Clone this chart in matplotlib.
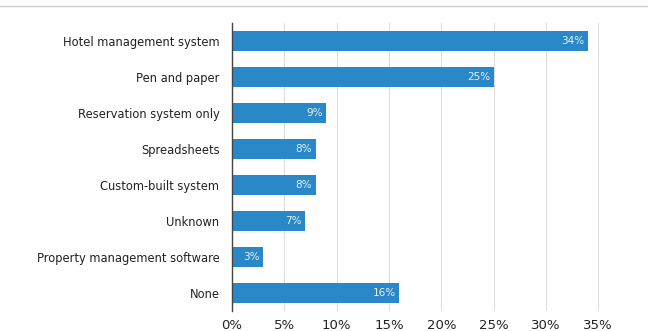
import matplotlib
matplotlib.use("Agg")
import matplotlib.pyplot as plt
from matplotlib.lines import Line2D

categories = ["Hotel management system", "Pen and paper", "Reservation system only",
              "Spreadsheets", "Custom-built system", "Unknown",
              "Property management software", "None"]
values = [34, 25, 9, 8, 8, 7, 3, 16]
tick_values = [0, 5, 10, 15, 20, 25, 30, 35]
tick_labels = [f"{v}%" for v in tick_values]

fig = plt.figure(figsize=(6.48, 3.31), dpi=100)
ax = fig.add_axes([0.358, 0.060, 0.583, 0.870])

y = list(range(len(categories)))
ax.barh(y, values, height=0.56, color="#2a88c8", zorder=3)
for yi, v in zip(y, values):
    ax.text(v - 0.35, yi, f"{v}%", ha="right", va="center", color="#e8f2fa",
            fontsize=7.5, zorder=4)

ax.set_yticks(y)
ax.set_yticklabels(categories, fontsize=8.3, color="#222222")
ax.set_ylim(len(categories) - 0.5, -0.5)
ax.set_xlim(0, 36.1)
ax.set_xticks(tick_values)
ax.set_xticklabels(tick_labels, fontsize=9.5, color="#222222")
ax.tick_params(axis="y", length=0, pad=9)
ax.tick_params(axis="x", length=0, pad=6)
ax.grid(axis="x", color="#dddddd", linewidth=0.8, zorder=0)
for s in ["top", "right", "bottom"]:
    ax.spines[s].set_visible(False)
ax.spines["left"].set_color("#444444")
ax.spines["left"].set_linewidth(1.0)
ax.spines["left"].set_zorder(5)

fig.lines.append(Line2D([0, 1], [0.982, 0.982], transform=fig.transFigure,
                        color="#cccccc", linewidth=1.0))

fig.savefig("out.png", dpi=100)
